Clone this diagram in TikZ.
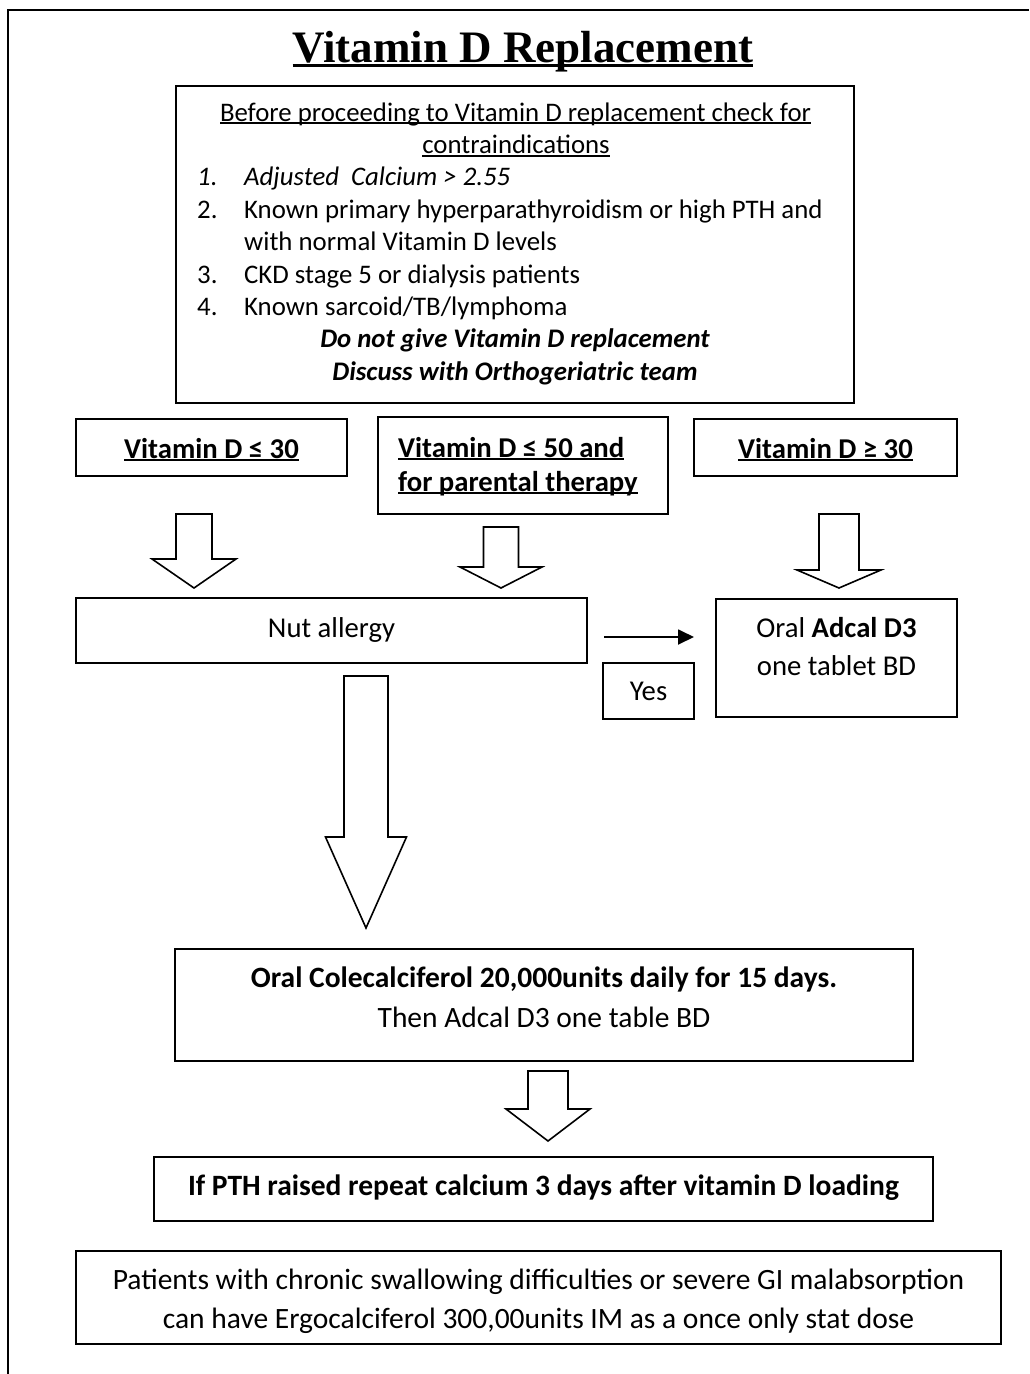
\documentclass[tikz,border=0pt]{standalone}
\usepackage{fontspec}
\setmainfont{Carlito}
\newfontfamily\titlefont{Liberation Serif}
\usetikzlibrary{arrows.meta}

% underline that sits a little below the baseline
\newcommand{\uln}[1]{\setbox0\hbox{#1}\leavevmode\rlap{\rule[-0.12em]{\wd0}{0.07em}}\box0}
\newcommand{\txtS}{\fontsize{26.8pt}{32.4pt}\selectfont}
\newcommand{\txtM}{\fontsize{28.7pt}{35pt}\selectfont}
\newcommand{\txtL}{\fontsize{29.5pt}{36pt}\selectfont}
% hollow block arrow: x, top, head base, tip, half shaft, half head
\newcommand{\hollowarrow}[6]{%
  \draw[line width=1.6pt, line join=miter] (#1-#5,#2) -- (#1+#5,#2) -- (#1+#5,#3) -- (#1+#6,#3)
    -- (#1,#4) -- (#1-#6,#3) -- (#1-#5,#3) -- cycle;}

\tikzset{
  box/.style={draw, line width=1.6pt, inner sep=0pt},
  lbl/.style={anchor=base, inner sep=0pt, font=\txtM}
}

\begin{document}
\begin{tikzpicture}[x=1pt,y=-1pt]
	\useasboundingbox (0,0) rectangle (1029,1374);
	\draw[line width=2.4pt] (8,1374) -- (8,10) -- (1029,10);

	\draw (523,62) node[lbl, font=\titlefont\bfseries\fontsize{45pt}{50pt}\selectfont] (title) {\uln{Vitamin D Replacement}};

	% contraindications
	\draw (515,244.5) node[box, minimum width=678pt, minimum height=317pt] (contra) {};
	\draw (515.5,121) node[lbl, font=\txtS] (checkA) {\uln{Before proceeding to Vitamin D replacement check for}};
	\draw (516,153.4) node[lbl, font=\txtS] (checkB) {\uln{contraindications}};
	\draw (197,185.8) node[lbl, anchor=base west, font=\txtS\itshape] (numA) {1.};
	\draw (244,185.8) node[lbl, anchor=base west, font=\txtS\itshape] (itemA) {Adjusted\ \ Calcium > 2.55};
	\draw (197,218.2) node[lbl, anchor=base west, font=\txtS] (numB) {2.};
	\draw (244,218.2) node[lbl, anchor=base west, font=\txtS] (itemB) {Known primary hyperparathyroidism or high PTH and};
	\draw (244,250.6) node[lbl, anchor=base west, font=\txtS] (itemBb) {with normal Vitamin D levels};
	\draw (197,283) node[lbl, anchor=base west, font=\txtS] (numC) {3.};
	\draw (244,283) node[lbl, anchor=base west, font=\txtS] (itemC) {CKD stage 5 or dialysis patients};
	\draw (197,315.4) node[lbl, anchor=base west, font=\txtS] (numD) {4.};
	\draw (244,315.4) node[lbl, anchor=base west, font=\txtS] (itemD) {Known sarcoid/TB/lymphoma};
	\draw (515,347.8) node[lbl, font=\txtS\bfseries\itshape] (warnA) {Do not give Vitamin D replacement};
	\draw (515,380.2) node[lbl, font=\txtS\bfseries\itshape] (warnB) {Discuss with Orthogeriatric team};

	% vitamin D levels
	\draw (211.5,447.5) node[box, minimum width=271pt, minimum height=57pt] (lowD) {};
	\draw (211.5,458) node[lbl, font=\txtM\bfseries] (lowDtext) {\uln{Vitamin D ≤ 30}};
	\draw (523,465.5) node[box, minimum width=290pt, minimum height=97pt] (midD) {};
	\draw (398,457) node[lbl, anchor=base west, font=\txtM\bfseries] (midDtextA) {\uln{Vitamin D ≤ 50 and}};
	\draw (398,491) node[lbl, anchor=base west, font=\txtM\bfseries] (midDtextB) {\uln{for parental therapy}};
	\draw (825.5,447.5) node[box, minimum width=263pt, minimum height=57pt] (highD) {};
	\draw (825.5,458) node[lbl, font=\txtM\bfseries] (highDtext) {\uln{Vitamin D ≥ 30}};

	\hollowarrow{194}{514}{559}{588}{18}{42}
	\hollowarrow{501}{527}{567}{588}{17.5}{41}
	\hollowarrow{839}{514}{570}{588}{20}{42}

	% nut allergy
	\draw (331.5,630.5) node[box, minimum width=511pt, minimum height=65pt] (nut) {};
	\draw (331.5,637) node[lbl] (nuttext) {Nut allergy};
	\draw (836.5,658) node[box, minimum width=241pt, minimum height=118pt] (adcal) {};
	\draw (836.5,637) node[lbl] (adcaltextA) {Oral \textbf{Adcal D3}};
	\draw (836.5,675) node[lbl] (adcaltextB) {one tablet BD};
	\draw (648.5,691) node[box, minimum width=91pt, minimum height=56pt] (yes) {};
	\draw (648.5,700) node[lbl] (yestext) {Yes};
	\coordinate (yesfrom) at (604,637);
	\coordinate (yesto) at (694,637);
	\draw[line width=1.8pt, -{Triangle[length=16pt,width=15pt]}] (yesfrom) -- (yesto);

	\hollowarrow{366}{676}{837}{928}{22}{40.5}

	% loading
	\draw (544,1005) node[box, minimum width=738pt, minimum height=112pt] (chole) {};
	\draw (544,987) node[lbl, font=\txtL\bfseries] (choletextA) {Oral Colecalciferol 20,000units daily for 15 days.};
	\draw (544,1027) node[lbl, font=\txtL] (choletextB) {Then Adcal D3 one table BD};

	\hollowarrow{548}{1071}{1109}{1141}{20}{42}

	\draw (543.5,1189) node[box, minimum width=779pt, minimum height=64pt] (pth) {};
	\draw (543.5,1195) node[lbl, font=\txtL\bfseries] (pthtext) {If PTH raised repeat calcium 3 days after vitamin D loading};

	\draw (538.5,1297.5) node[box, minimum width=925pt, minimum height=93pt] (ergo) {};
	\draw (538.5,1289) node[lbl, font=\txtL] (ergotextA) {Patients with chronic swallowing difficulties or severe GI malabsorption};
	\draw (538.5,1328) node[lbl, font=\txtL] (ergotextB) {can have Ergocalciferol 300,00units IM as a once only stat dose};
\end{tikzpicture}
\end{document}
